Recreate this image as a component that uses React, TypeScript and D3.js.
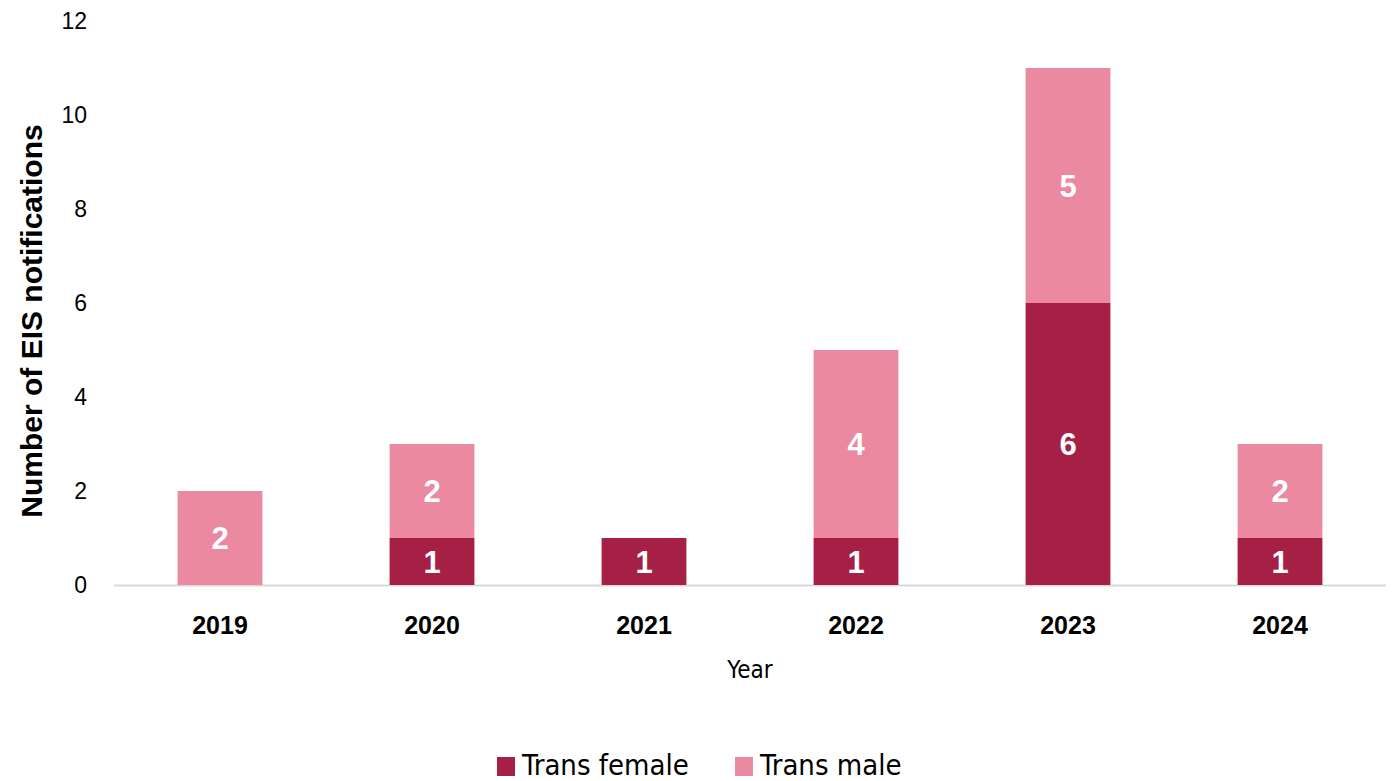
import React from "react";
import * as d3 from "d3";

const years = ["2019", "2020", "2021", "2022", "2023", "2024"];
const transFemale = [0, 1, 1, 1, 6, 1];
const transMale = [2, 2, 0, 4, 5, 2];
const seriesNames = ["Trans female", "Trans male"];
const seriesColors = ["#A61F44", "#EB89A0"];
const yTicks = [0, 2, 4, 6, 8, 10, 12];

export default function App() {
  const W = 1396, H = 781;
  const left = 114, right = 1386, top = 21, bottom = 585;
  const x = d3.scaleBand<string>().domain(years).range([left, right]).paddingInner(0.6).paddingOuter(0.3);
  const y = d3.scaleLinear().domain([0, 12]).range([bottom, top]);
  const table = years.map((yr, i) => ({ year: yr, f: transFemale[i], m: transMale[i] }));
  const stack = d3.stack<any>().keys(["f", "m"])(table);
  const axisFont = "Liberation Sans, Arial, sans-serif";
  const narrow = "'Liberation Sans Narrow', 'DejaVu Sans Condensed', sans-serif";
  return (
    <svg width={W} height={H} style={{ position: "absolute", left: 0, top: 0, background: "#fff" }}>
      {yTicks.map(t => (
        <text key={t} x={87} y={y(t)} dy="0.36em" textAnchor="end" fontFamily={axisFont} fontSize={23} fill="#000">{t}</text>
      ))}
      <line x1={left} x2={right} y1={bottom + 0.5} y2={bottom + 0.5} stroke="#D9D9D9" strokeWidth={2} />
      {stack.map((s, si) => s.map((d, i) => {
        const v = d[1] - d[0];
        if (v <= 0) return null;
        const yr = years[i];
        const bx = x(yr)!;
        return (
          <g key={si + "-" + i}>
            <rect x={bx} y={y(d[1])} width={x.bandwidth()} height={y(d[0]) - y(d[1])} fill={seriesColors[si]} />
            <text x={bx + x.bandwidth() / 2} y={(y(d[0]) + y(d[1])) / 2} dy="0.36em" textAnchor="middle"
              fontFamily={axisFont} fontWeight="bold" fontSize={31} fill="#fff">{v}</text>
          </g>
        );
      }))}
      {years.map(yr => (
        <text key={yr} x={x(yr)! + x.bandwidth() / 2} y={625} dy="0.36em" textAnchor="middle"
          fontFamily={axisFont} fontWeight="bold" fontSize={25} fill="#000">{yr}</text>
      ))}
      <text x={750} y={669} dy="0.36em" textAnchor="middle" fontFamily={narrow} fontSize={24} fill="#000">Year</text>
      <text transform={`translate(31,321) rotate(-90)`} dy="0.36em" textAnchor="middle" fontFamily={axisFont}
        fontWeight="bold" fontSize={30} fill="#000">Number of EIS notifications</text>
      {seriesNames.map((n, i) => {
        const lx = [497, 735][i];
        return (
          <g key={n}>
            <rect x={lx} y={757} width={18} height={19} fill={seriesColors[i]} />
            <text x={lx + 25} y={775} fontFamily={narrow} fontSize={29} fill="#000">{n}</text>
          </g>
        );
      })}
    </svg>
  );
}
